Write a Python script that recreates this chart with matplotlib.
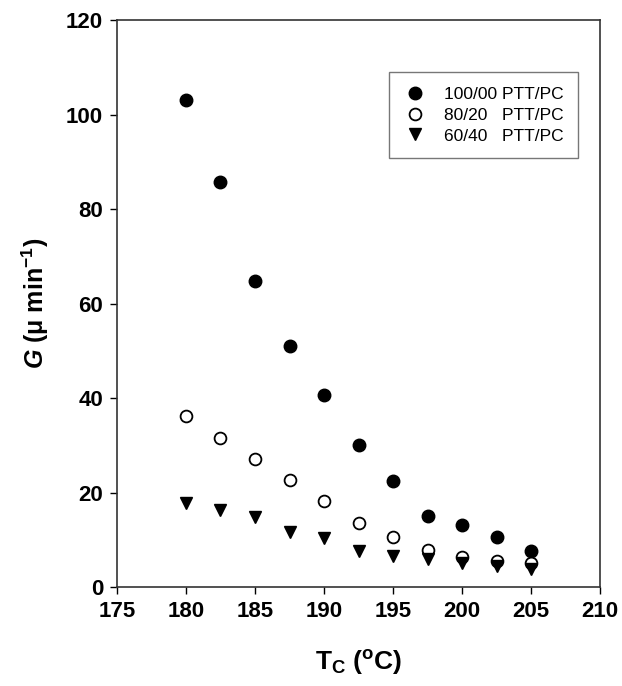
import matplotlib.pyplot as plt

plt.rcParams['font.family'] = ['Liberation Sans', 'DejaVu Sans']
plt.rcParams['mathtext.fontset'] = 'custom'
plt.rcParams['mathtext.rm'] = 'Liberation Sans'
plt.rcParams['mathtext.bf'] = 'Liberation Sans:bold'
plt.rcParams['mathtext.it'] = 'Liberation Sans:italic'
plt.rcParams['mathtext.bfit'] = 'Liberation Sans:bold:italic'

tc = [180, 182.5, 185, 187.5, 190, 192.5, 195, 197.5, 200, 202.5, 205]
g_100_00 = [103.0, 85.7, 64.7, 51.1, 40.6, 30.0, 22.5, 15.0, 13.1, 10.5, 7.6]
g_80_20 = [36.1, 31.6, 27.1, 22.7, 18.1, 13.6, 10.5, 7.8, 6.3, 5.6, 5.0]
g_60_40 = [17.7, 16.3, 14.9, 11.7, 10.3, 7.7, 6.6, 5.9, 5.0, 4.4, 3.9]
labels = ['100/00 PTT/PC', '80/20   PTT/PC', '60/40   PTT/PC']

fig = plt.figure(figsize=(6.22, 6.86), dpi=100)
ax = fig.add_axes([0.188, 0.1443, 0.777, 0.8265])

ax.plot(tc, g_100_00, 'o', color='black', markersize=9, linestyle='none', label=labels[0])
ax.plot(tc, g_80_20, 'o', markerfacecolor='white', markeredgecolor='black',
        markeredgewidth=1.3, markersize=8.5, linestyle='none', label=labels[1])
ax.plot(tc, g_60_40, 'v', color='black', markersize=9, linestyle='none', label=labels[2])

ax.set_xlim(175, 210)
ax.set_ylim(0, 120)
ax.set_xticks(range(175, 211, 5))
ax.set_yticks(range(0, 121, 20))
ax.tick_params(direction='out', length=5, width=1, labelsize=16, pad=5)
for lab in ax.get_xticklabels() + ax.get_yticklabels():
    lab.set_fontweight('bold')
for sp in ax.spines.values():
    sp.set_linewidth(1.2)
    sp.set_color('#333333')

ax.set_xlabel(r'$\mathbf{T_C\ (^oC)}$', fontsize=19)
ax.set_ylabel(r'$\boldsymbol{G}\ \mathbf{(\mu\ min^{-1})}$', fontsize=18)
ax.xaxis.set_label_coords(0.5, -0.108)
ax.yaxis.set_label_coords(-0.137, 0.5)

leg = ax.legend(loc='upper right', bbox_to_anchor=(0.955, 0.908), fontsize=12.5,
                fancybox=False, framealpha=1, edgecolor='#777777',
                handlelength=1.2, handletextpad=1.1, borderpad=0.85,
                labelspacing=0.32, borderaxespad=0)
leg.get_frame().set_linewidth(1.0)

plt.savefig('out.png', dpi=100)
